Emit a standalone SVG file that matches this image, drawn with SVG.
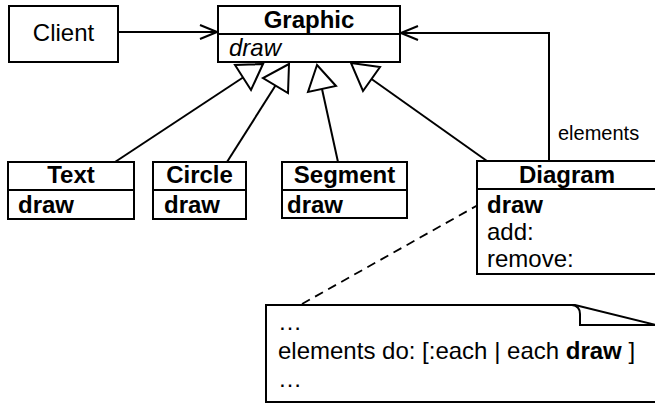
<svg xmlns="http://www.w3.org/2000/svg" width="655" height="403" viewBox="0 0 655 403">
  <style>
    .box { fill: #fff; stroke: #000; stroke-width: 2; }
    .ln { fill: none; stroke: #000; stroke-width: 2; }
    .dash { fill: none; stroke: #000; stroke-width: 1.8; stroke-dasharray: 9 6; }
    .tri { fill: #fff; stroke: #000; stroke-width: 2; stroke-linejoin: miter; }
    text { font-family: "Liberation Sans", Arial, Helvetica, sans-serif; font-size: 24px; fill: #000; }
    .b { font-weight: bold; }
    .i { font-style: italic; }
    .c { text-anchor: middle; }
    .small { font-size: 20px; }
  </style>
  <defs>
    <marker id="open" viewBox="0 0 20 16" refX="19" refY="8" markerWidth="20" markerHeight="16" markerUnits="userSpaceOnUse" orient="auto">
      <path d="M2,1 L19,8 L2,15" fill="none" stroke="#000" stroke-width="2"/>
    </marker>
  </defs>

  <!-- connectors -->
  <g id="connectors">
    <line class="ln" x1="118" y1="32" x2="217" y2="32" marker-end="url(#open)"/>
    <polyline class="ln" points="549,161 549,33 401,33" marker-end="url(#open)"/>
    <text class="small" x="558" y="140">elements</text>
    <!-- generalizations -->
    <line class="ln" x1="115" y1="162" x2="243" y2="77.5"/>
    <polygon class="tri" points="263,64 235,65 251,90"/>
    <line class="ln" x1="227" y1="162" x2="275.5" y2="85.5"/>
    <polygon class="tri" points="289,64 263,78 288,93"/>
    <line class="ln" x1="338" y1="162" x2="322" y2="89"/>
    <polygon class="tri" points="317,65 308,92 336,86"/>
    <line class="ln" x1="487" y1="161" x2="371.5" y2="79"/>
    <polygon class="tri" points="351,63 380,67 363,91"/>
    <!-- note anchor -->
    <line class="dash" x1="302" y1="304" x2="478" y2="205"/>
  </g>

  <g id="client">
    <rect class="box" x="9" y="6" width="109" height="56"/>
    <text class="c" x="63.5" y="41">Client</text>
  </g>

  <g id="graphic">
    <rect class="box" x="218" y="6" width="182" height="56"/>
    <line class="ln" x1="218" y1="34" x2="400" y2="34"/>
    <text class="b c" x="309" y="28">Graphic</text>
    <text class="i" x="229" y="56">draw</text>
  </g>

  <g id="text">
    <rect class="box" x="8" y="162" width="126" height="57"/>
    <line class="ln" x1="8" y1="190" x2="134" y2="190"/>
    <text class="b c" x="71" y="183">Text</text>
    <text class="b" x="18" y="213">draw</text>
  </g>

  <g id="circle">
    <rect class="box" x="153" y="162" width="93" height="57"/>
    <line class="ln" x1="153" y1="190" x2="246" y2="190"/>
    <text class="b c" x="199.5" y="183">Circle</text>
    <text class="b" x="164" y="213">draw</text>
  </g>

  <g id="segment">
    <rect class="box" x="282" y="162" width="125" height="56"/>
    <line class="ln" x1="282" y1="190" x2="407" y2="190"/>
    <text class="b c" x="344.5" y="183">Segment</text>
    <text class="b" x="287" y="213">draw</text>
  </g>

  <g id="diagram">
    <rect class="box" x="477" y="161" width="190" height="113"/>
    <line class="ln" x1="477" y1="189" x2="667" y2="189"/>
    <text class="b c" x="567" y="183">Diagram</text>
    <text class="b" x="487" y="213">draw</text>
    <text x="487" y="240">add:</text>
    <text x="487" y="267">remove:</text>
  </g>

  <g id="note">
    <path class="box" d="M266,305 L575,305 L660,326 L660,402 L266,402 Z"/>
    <path class="ln" d="M572,305 Q580,306 580,314 L580,325 L660,325"/>
    <text x="278" y="330">…</text>
    <text x="278" y="359">elements do: [:each | each <tspan class="b">draw</tspan> ]</text>
    <text x="278" y="387">…</text>
  </g>
</svg>
